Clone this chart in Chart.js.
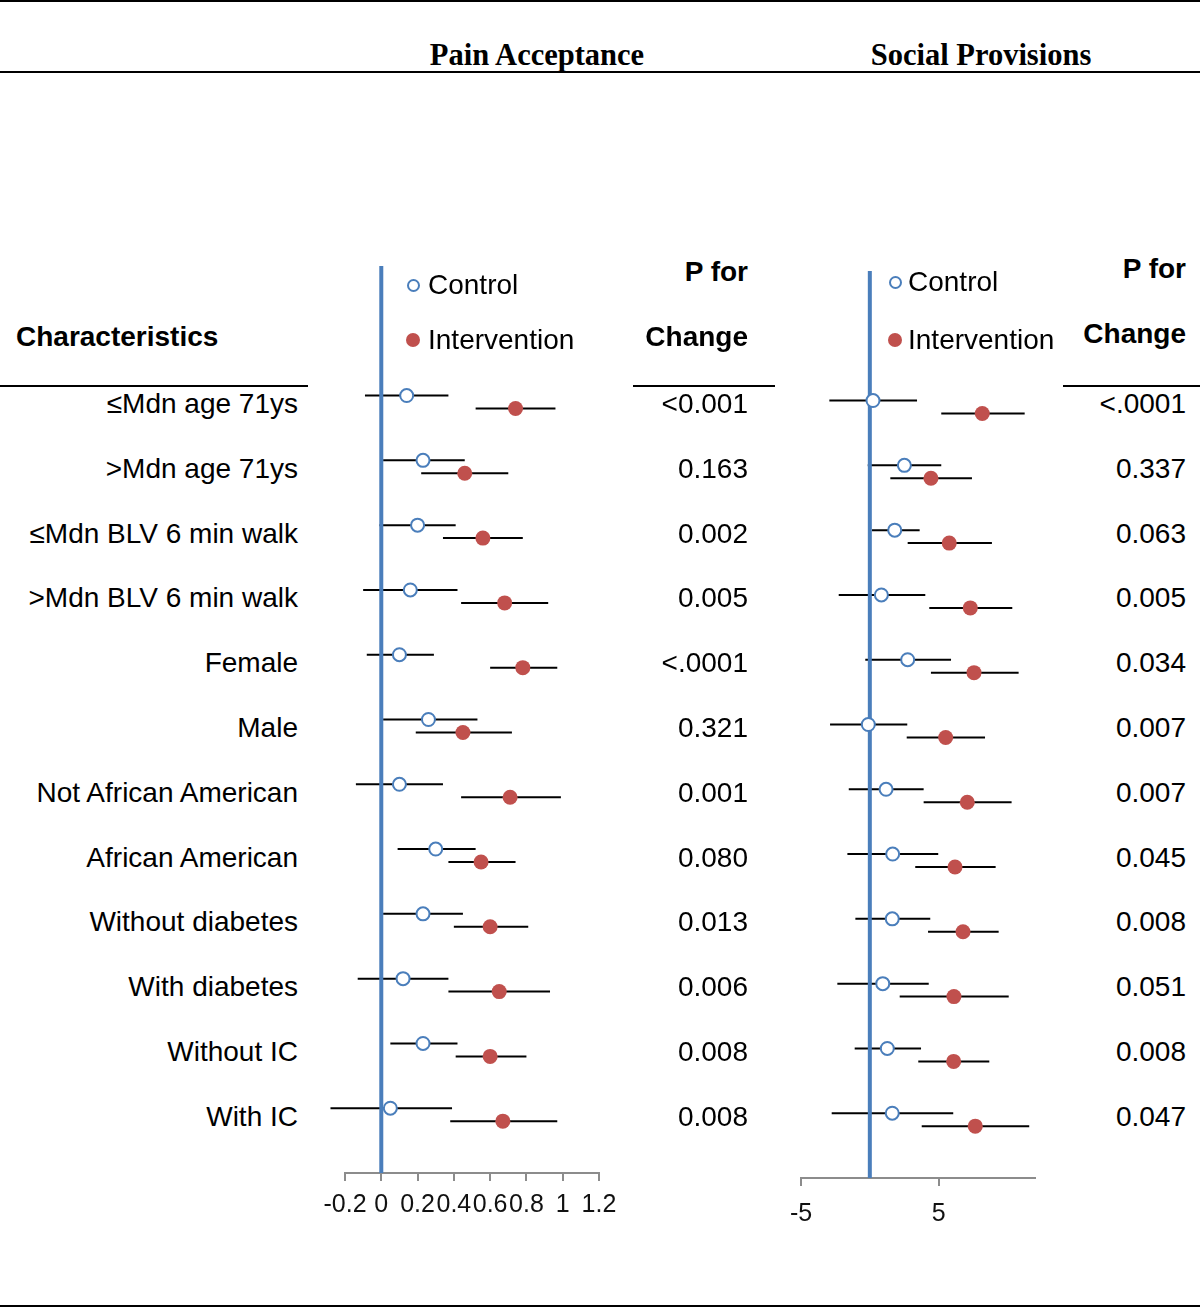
<!DOCTYPE html>
<html lang="en">
<head>
  <meta charset="UTF-8" />
  <title>Pain Acceptance / Social Provisions</title>
  <script src="https://cdn.jsdelivr.net/npm/chart.js"></script>
  <style>
    body { margin: 0; background: #fff; }
    #page { position: relative; width: 1200px; height: 1308px; font-family: "Liberation Sans", Arial, sans-serif; color: #000; }
    .t { position: absolute; white-space: nowrap; font-size: 28px; line-height: 1; transform: translateY(-50%); }
    .b { font-weight: bold; }
    .title { font-family: "Liberation Serif", "Times New Roman", serif; font-weight: bold; font-size: 30.5px; }
    .hr { position: absolute; background: #000; }
    canvas { position: absolute; }
    .mk { position: absolute; border-radius: 50%; box-sizing: border-box; }
  </style>
</head>
<body>
<div id="page">
  <canvas id="pain" width="360" height="1000" style="left:300px; top:240px;"></canvas>
  <canvas id="social" width="300" height="1000" style="left:760px; top:240px;"></canvas>
</div>

<script>
  // rows of the table
  const categories = ['≤Mdn age 71ys', '>Mdn age 71ys', '≤Mdn BLV 6 min walk', '>Mdn BLV 6 min walk',
    'Female', 'Male', 'Not African American', 'African American',
    'Without diabetes', 'With diabetes', 'Without IC', 'With IC'];

  // Pain Acceptance: estimate and CI, control and intervention
  const painControl   = [0.14, 0.23, 0.20, 0.16, 0.10, 0.26, 0.10, 0.30, 0.23, 0.12, 0.23, 0.05];
  const painControlLo = [-0.09, 0.01, -0.01, -0.10, -0.08, 0.01, -0.14, 0.09, 0.01, -0.13, 0.05, -0.28];
  const painControlHi = [0.37, 0.46, 0.41, 0.42, 0.29, 0.53, 0.34, 0.52, 0.45, 0.37, 0.42, 0.39];
  const painInt   = [0.74, 0.46, 0.56, 0.68, 0.78, 0.45, 0.71, 0.55, 0.60, 0.65, 0.60, 0.67];
  const painIntLo = [0.52, 0.22, 0.34, 0.44, 0.60, 0.19, 0.44, 0.37, 0.40, 0.37, 0.41, 0.38];
  const painIntHi = [0.96, 0.70, 0.78, 0.92, 0.97, 0.72, 0.99, 0.74, 0.81, 0.93, 0.80, 0.97];
  const painP = ['<0.001', '0.163', '0.002', '0.005', '<.0001', '0.321', '0.001', '0.080', '0.013', '0.006', '0.008', '0.008'];
  const painTicks = [-0.2, 0, 0.2, 0.4, 0.6, 0.8, 1, 1.2];
  const painTickLabels = ['-0.2', '0', '0.2', '0.4', '0.6', '0.8', '1', '1.2'];

  // Social Provisions
  const socialControl   = [0.23, 2.51, 1.81, 0.84, 2.75, -0.11, 1.18, 1.66, 1.63, 0.94, 1.27, 1.63];
  const socialControlLo = [-2.94, -0.15, 0.16, -2.26, -0.33, -2.89, -1.53, -1.63, -1.05, -2.36, -1.10, -2.77];
  const socialControlHi = [3.43, 5.19, 3.62, 4.03, 5.90, 2.72, 3.91, 4.97, 4.39, 4.28, 3.72, 6.06];
  const socialInt   = [8.17, 4.44, 5.77, 7.30, 7.57, 5.51, 7.08, 6.19, 6.77, 6.11, 6.09, 7.66];
  const socialIntLo = [5.19, 1.49, 2.75, 4.32, 4.44, 2.68, 3.91, 3.30, 4.23, 2.17, 3.52, 3.77];
  const socialIntHi = [11.25, 7.42, 8.87, 10.35, 10.81, 8.37, 10.30, 9.14, 9.36, 10.09, 8.68, 11.58];
  const socialP = ['<.0001', '0.337', '0.063', '0.005', '0.034', '0.007', '0.007', '0.045', '0.008', '0.051', '0.008', '0.047'];
  const socialTicks = [-5, 5];
  const socialTickLabels = ['-5', '5'];

  const BLUE = '#4A7EBB', RED = '#C0504D';
  const INT_SHIFT = 0.2; // intervention row sits a bit below control row

  function makePanel(id, p) {
    const datasets = [];
    // markers first so they are drawn on top
    datasets.push({
      data: p.ctl.map((v, i) => ({ x: v, y: i })),
      pointStyle: 'circle', pointRadius: 6.5, pointBorderWidth: 2,
      pointBackgroundColor: '#fff', pointBorderColor: BLUE, clip: false
    });
    datasets.push({
      data: p.int.map((v, i) => ({ x: v, y: i + INT_SHIFT })),
      pointStyle: 'circle', pointRadius: 7.5, pointBorderWidth: 0,
      pointBackgroundColor: RED, pointBorderColor: RED, clip: false
    });
    // zero line
    datasets.push({
      data: [{ x: 0, y: -2 }, { x: 0, y: 12 }],
      showLine: true, borderColor: BLUE, borderWidth: 4, pointRadius: 0, clip: false
    });
    // whiskers
    p.ctl.forEach((v, i) => {
      datasets.push({
        data: [{ x: p.ctlLo[i], y: i }, { x: p.ctlHi[i], y: i }],
        showLine: true, borderColor: '#000', borderWidth: 2, pointRadius: 0, clip: false
      });
      datasets.push({
        data: [{ x: p.intLo[i], y: i + INT_SHIFT }, { x: p.intHi[i], y: i + INT_SHIFT }],
        showLine: true, borderColor: '#000', borderWidth: 2, pointRadius: 0, clip: false
      });
    });

    new Chart(document.getElementById(id), {
      type: 'scatter',
      data: { datasets },
      options: {
        responsive: false,
        animation: false,
        devicePixelRatio: 1,
        layout: { padding: p.padding },
        plugins: { legend: { display: false }, tooltip: { enabled: false } },
        scales: {
          x: {
            type: 'linear', min: p.min, max: p.max,
            afterBuildTicks: s => { s.ticks = p.ticks.map(v => ({ value: v })); },
            afterFit: s => { s.height = 44; },
            ticks: {
              callback: (v, i) => p.tickLabels[i],
              font: { family: 'Liberation Sans', size: 25 },
              color: '#111', padding: p.tickPad, maxRotation: 0, autoSkip: false
            },
            grid: { drawOnChartArea: false, tickLength: 8, color: '#8c8c8c', lineWidth: 2 },
            border: { color: '#8c8c8c', width: 2 }
          },
          y: { type: 'linear', min: -2, max: 12, reverse: true, display: false }
        }
      }
    });
  }

  makePanel('pain', {
    ctl: painControl, ctlLo: painControlLo, ctlHi: painControlHi,
    int: painInt, intLo: painIntLo, intHi: painIntHi,
    min: -0.2, max: 1.2, ticks: painTicks, tickLabels: painTickLabels, tickPad: 9,
    padding: { left: 45, right: 61, top: 26, bottom: 23 }
  });
  makePanel('social', {
    ctl: socialControl, ctlLo: socialControlLo, ctlHi: socialControlHi,
    int: socialInt, intLo: socialIntLo, intHi: socialIntHi,
    min: -5, max: 12, ticks: socialTicks, tickLabels: socialTickLabels, tickPad: 13,
    padding: { left: 41, right: 25, top: 31, bottom: 18 }
  });

  // table text and rules
  const page = document.getElementById('page');
  function text(str, x, y, align, cls) {
    const d = document.createElement('div');
    d.className = 't ' + (cls || '');
    d.textContent = str;
    d.style.top = y + 'px';
    if (align === 'right') d.style.right = (1200 - x) + 'px';
    else if (align === 'center') { d.style.left = x + 'px'; d.style.transform = 'translate(-50%, -50%)'; }
    else d.style.left = x + 'px';
    page.appendChild(d);
  }
  function rule(x1, x2, y, h) {
    const d = document.createElement('div');
    d.className = 'hr';
    d.style.left = x1 + 'px'; d.style.width = (x2 - x1) + 'px';
    d.style.top = y + 'px'; d.style.height = h + 'px';
    page.appendChild(d);
  }
  function marker(x, y, r, filled) {
    const d = document.createElement('div');
    d.className = 'mk';
    d.style.left = (x - r) + 'px'; d.style.top = (y - r) + 'px';
    d.style.width = d.style.height = (2 * r) + 'px';
    if (filled) d.style.background = RED;
    else d.style.border = '2px solid ' + BLUE;
    page.appendChild(d);
  }

  rule(0, 1200, 0, 2);
  rule(0, 1200, 71, 2);
  rule(0, 1200, 1305, 2);
  text('Pain Acceptance', 537, 55, 'center', 'title');
  text('Social Provisions', 981, 55, 'center', 'title');

  text('Characteristics', 16, 337, 'left', 'b');
  rule(0, 308, 385, 1.5);
  text('P for', 748, 272, 'right', 'b');
  text('Change', 748, 337, 'right', 'b');
  rule(633, 775, 385, 1.5);
  text('P for', 1186, 269, 'right', 'b');
  text('Change', 1186, 334, 'right', 'b');
  rule(1063, 1200, 385, 1.5);

  marker(413, 285, 6.5, false); text('Control', 428, 285, 'left');
  marker(413, 340, 7, true);    text('Intervention', 428, 340, 'left');
  marker(895, 282, 6.5, false); text('Control', 908, 282, 'left');
  marker(895, 340, 7, true);    text('Intervention', 908, 340, 'left');

  categories.forEach((c, i) => {
    const y = 404 + 64.8 * i;
    text(c, 298, y, 'right');
    text(painP[i], 748, y, 'right');
    text(socialP[i], 1186, y, 'right');
  });
</script>
</body>
</html>
